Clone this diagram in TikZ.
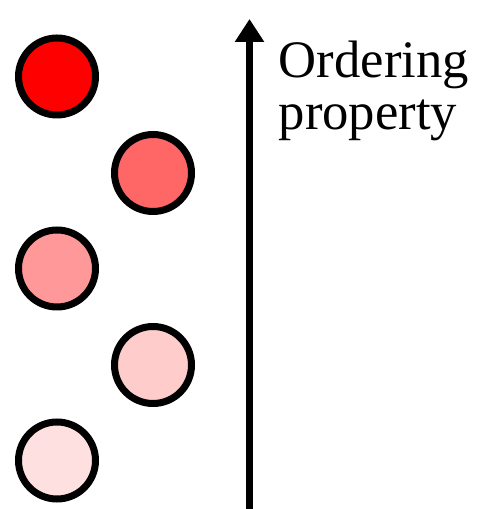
\documentclass[tikz,border=0pt]{standalone}
\usepackage{fontspec}
\setmainfont{Liberation Serif}
\usetikzlibrary{arrows.meta}

\definecolor{shadeA}{RGB}{255,0,0}
\definecolor{shadeB}{RGB}{255,102,102}
\definecolor{shadeC}{RGB}{255,153,153}
\definecolor{shadeD}{RGB}{255,204,204}
\definecolor{shadeE}{RGB}{255,224,224}

\begin{document}
\begin{tikzpicture}[x=0.75pt,y=0.75pt]
	\useasboundingbox (0,0) rectangle (481,509);
	\begin{scope}[every node/.style={circle,draw=black,line width=5.25pt,inner sep=0pt,minimum size=57.75pt}]% radius 38.5 units
	\node[fill=shadeA] (c1) at (57,432.5) {};
	\node[fill=shadeB] (c2) at (153,336) {};
	\node[fill=shadeC] (c3) at (57,240.5) {};
	\node[fill=shadeD] (c4) at (153,144) {};
	\node[fill=shadeE] (c5) at (57,48.5) {};
	\end{scope}
	\coordinate (low) at (249.5,0);
	\coordinate (high) at (249.5,490);
	\draw[line width=5.25pt,-{Triangle[length=17.25pt,width=21pt]}] (low)--(high);
	\node[anchor=base west,align=left,inner sep=0pt,font=\fontsize{39.5pt}{39pt}\selectfont] (axislabel) at (278.5,379) {Ordering\\property};
\end{tikzpicture}
\end{document}
